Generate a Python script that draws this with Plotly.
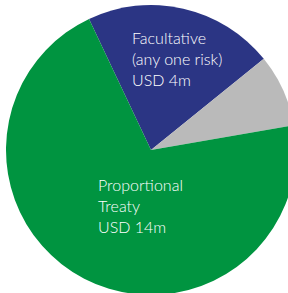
import plotly.graph_objects as go

# Data
categories = ["Facultative (any one risk)", "Other", "Proportional Treaty"]
values = [4.2, 1.6, 14.0]
label_texts = ["Facultative<br>(any one risk)<br>USD 4m", "", "Proportional<br>Treaty<br>USD 14m"]
colors = ["#2b3584", "#bababa", "#009440"]

W, H = 302, 300

fig = go.Figure(go.Pie(
    labels=categories,
    values=values,
    sort=False,
    direction="clockwise",
    rotation=-25.3,
    marker=dict(colors=colors, line=dict(width=0)),
    textinfo="none",
    hoverinfo="label+value",
    showlegend=False,
    domain=dict(x=[0, 1], y=[5 / H, 1 - 5 / H]),
))

font = dict(family="Lato, 'Open Sans', sans-serif", size=16, color="#ffffff", weight=300)
fig.add_annotation(text=label_texts[0], x=130 / W, y=1 - 26 / H, xref="paper", yref="paper",
                   xanchor="left", yanchor="top", align="left", showarrow=False, font=font)
fig.add_annotation(text=label_texts[2], x=96 / W, y=1 - 173 / H, xref="paper", yref="paper",
                   xanchor="left", yanchor="top", align="left", showarrow=False, font=font)

fig.update_layout(
    width=W, height=H,
    margin=dict(l=0, r=0, t=0, b=0),
    paper_bgcolor="white",
    plot_bgcolor="white",
)

fig.write_html("out.html", config={"displayModeBar": False},
               post_script="document.body.style.margin='0';document.body.style.overflow='hidden';")
